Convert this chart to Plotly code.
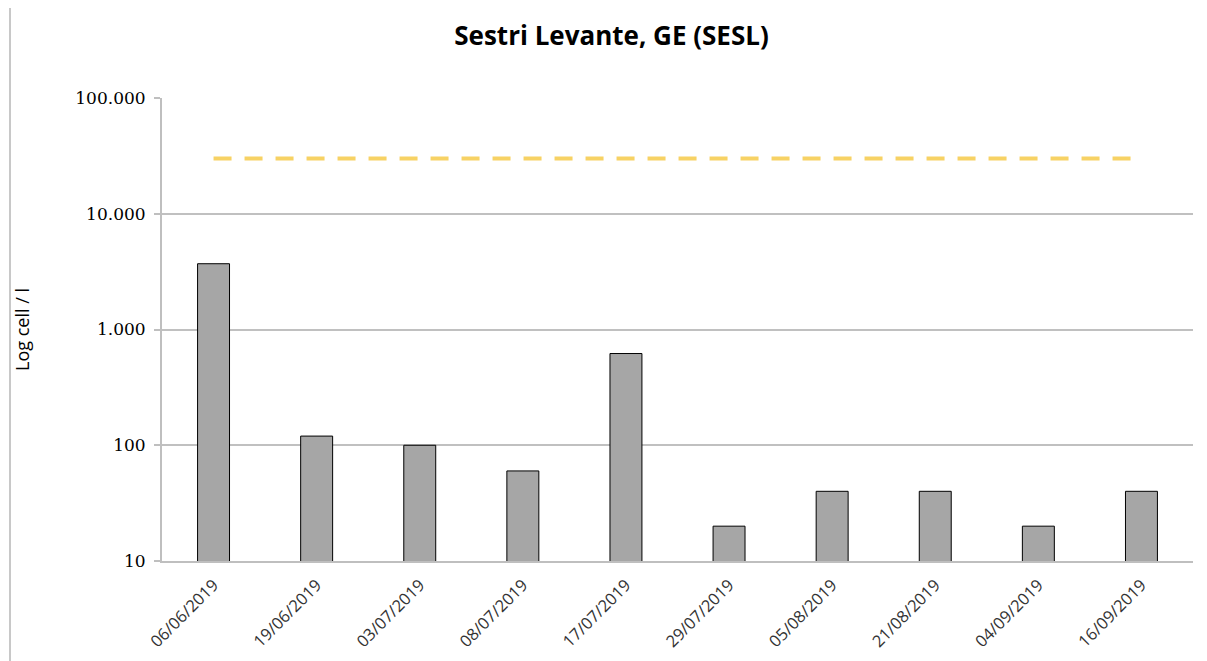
import plotly.graph_objects as go

dates = ["06/06/2019", "19/06/2019", "03/07/2019", "08/07/2019", "17/07/2019",
         "29/07/2019", "05/08/2019", "21/08/2019", "04/09/2019", "16/09/2019"]
cells = [3700, 120, 100, 60, 620, 20, 40, 40, 20, 40]
threshold = [30000] * len(dates)
tick_vals = [10, 100, 1000, 10000, 100000]
tick_text = ["10", "100", "1.000", "10.000", "100.000"]

L, R, T, B = 154, 22, 90, 108
W, H = 1207, 661
pw = W - L - R

fig = go.Figure()
fig.add_trace(go.Bar(x=dates, y=cells, marker=dict(color="#a6a6a6", line=dict(color="#000000", width=1)),
                     showlegend=False))
fig.add_trace(go.Scatter(x=dates, y=threshold, mode="lines",
                         line=dict(color="#f7d264", width=4, dash="18px,13px"), showlegend=False))

fig.update_layout(
    width=W, height=H,
    margin=dict(l=L, r=R, t=T, b=B),
    paper_bgcolor="white", plot_bgcolor="white",
    bargap=0.69,
    title=dict(text="<b>Sestri Levante, GE (SESL)</b>", x=0.5, xref="container", xanchor="center",
               y=1 - 28 / H, yref="container", yanchor="middle",
               font=dict(family="Open Sans", size=26, color="#000000")),
    shapes=[dict(type="line", xref="paper", yref="paper", x0=(2 - L) / pw, x1=(2 - L) / pw, y0=-1, y1=2,
                 line=dict(color="#c8c8c8", width=2))],
)
fig.update_xaxes(type="category", showline=True, linecolor="#bfbfbf", linewidth=2,
                 tickangle=-45, tickfont=dict(family="Open Sans", size=16.5, color="#333333"),
                 ticks="", showgrid=False, ticklabelstandoff=6)
fig.update_yaxes(type="log", range=[1, 5], tickvals=tick_vals, ticktext=tick_text,
                 showgrid=True, gridcolor="#c0c0c0", gridwidth=2,
                 showline=True, linecolor="#bfbfbf", linewidth=2,
                 ticks="outside", ticklen=6, tickcolor="#bfbfbf", tickwidth=2,
                 ticklabelstandoff=5,
                 tickfont=dict(family="DejaVu Serif", size=17, color="#000000"),
                 title=dict(text="Log cell / l", font=dict(family="Open Sans", size=18, color="#000000"),
                            standoff=41))

fig.write_html("out.html")
